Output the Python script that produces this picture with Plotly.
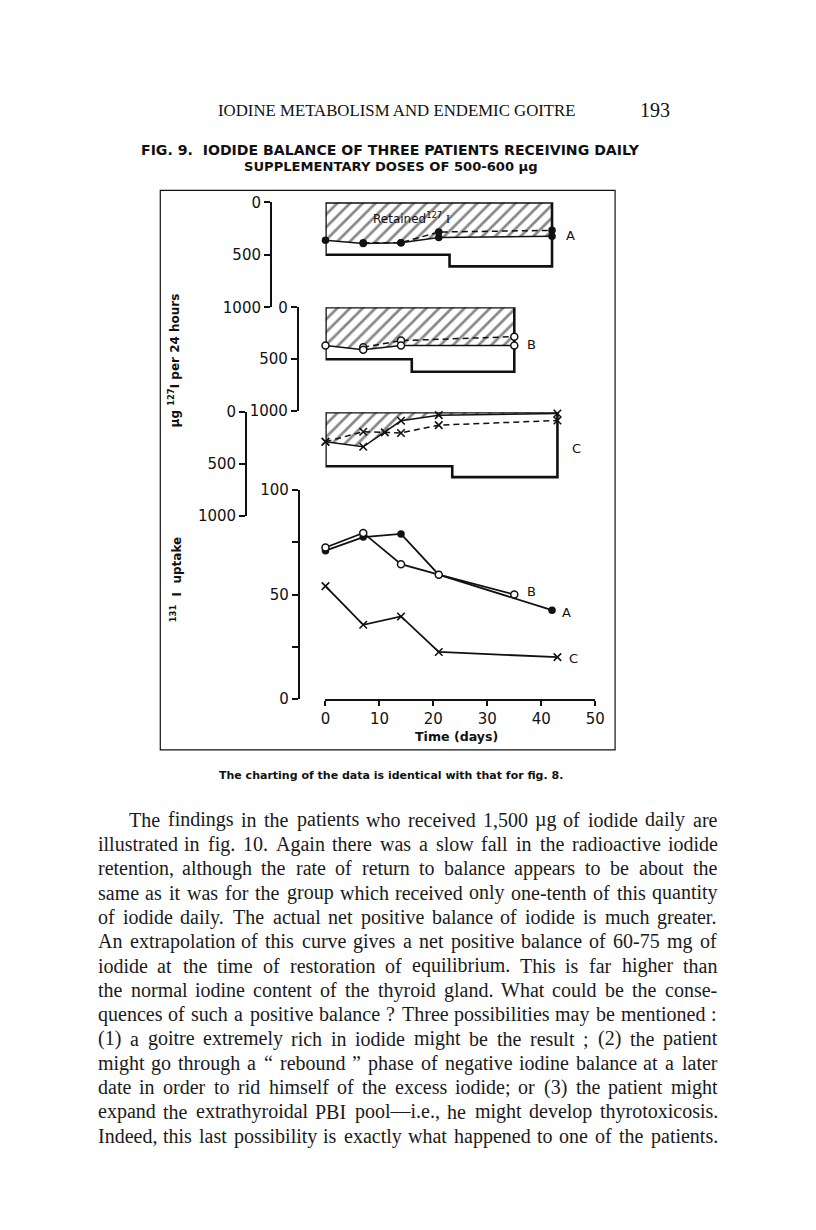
import plotly.graph_objects as go

# page is 816 x 1230; the browser keeps a body margin around the figure
W, H = 816, 1230
FW, FH = 800, 1214
# measured page placement of figure pixels: page = S * fig + T
S, TX, TY = 0.986, 12.0, 16.5

# ---- 131I uptake (% of dose) ----
days_up_A = [0, 7, 14, 21, 42]
uptake_A = [71, 77.5, 79, 59.5, 42.5]
days_up_B = [0, 7, 14, 21, 35]
uptake_B = [72.5, 79.5, 64.5, 59.5, 50]
days_up_C = [0, 7, 14, 21, 43]
uptake_C = [54, 35.5, 39.5, 22.5, 20]

# ---- 127I balance, ug per 24 h (plotted downward from 0) ----
intake_days_A = [0, 23, 42]
intake_A = [500, 610]
solid_days_A = [0, 7, 14, 21, 42]
solid_A = [362, 393, 384, 336, 324]
dash_days_A = [7, 14, 21, 42]
dash_A = [384, 384, 283, 267]

intake_days_B = [0, 16, 35]
intake_B = [500, 620]
solid_days_B = [0, 7, 14, 35]
solid_B = [368, 410, 368, 368]
dash_days_B = [7, 14, 35]
dash_B = [384, 321, 283]

intake_days_C = [0, 23.5, 43]
intake_C = [520, 625]
solid_days_C = [0, 7, 14, 21, 43]
solid_C = [285, 333, 83, 29, 13]
dash_days_C = [0, 7, 11, 14, 21, 43]
dash_C = [285, 188, 195, 200, 125, 80]

time_ticks = [0, 10, 20, 30, 40, 50]
balance_ticks = [0, 500, 1000]
uptake_ticks = [0, 50, 100]
uptake_minor = [25, 75]

INK = "#111111"


def px(x):
    return (x - TX) / S / FW


def py(y):
    return 1 - (y - TY) / S / FH


def intake_box(days, levels):
    # top edge at 0, stepped bottom edge at the intake level
    xs, ys = [days[0], days[0]], [0, levels[0]]
    for i, lev in enumerate(levels):
        if i > 0:
            xs.append(days[i]); ys.append(lev)
        xs.append(days[i + 1]); ys.append(lev)
    xs += [days[-1], days[0]]
    ys += [0, 0]
    return xs, ys


fig = go.Figure()

marker_A = dict(symbol="circle", size=7.5, color=INK)
marker_B = dict(symbol="circle", size=7, color="white", line=dict(color=INK, width=1.5))
marker_C = dict(symbol="x-thin", size=7.5, line=dict(color=INK, width=1.6), color=INK)

panels = [
    ("y2", intake_days_A, intake_A, solid_days_A, solid_A, dash_days_A, dash_A, marker_A),
    ("y3", intake_days_B, intake_B, solid_days_B, solid_B, dash_days_B, dash_B, marker_B),
    ("y4", intake_days_C, intake_C, solid_days_C, solid_C, dash_days_C, dash_C, marker_C),
]

for yax, idays, ilev, sdays, svals, ddays, dvals, mk in panels:
    # hatched "retained" area between 0 and the solid line
    fig.add_trace(go.Scatter(
        x=[sdays[0]] + sdays + [sdays[-1]], y=[0] + svals + [0],
        yaxis=yax, mode="lines", fill="toself", line=dict(width=0),
        fillcolor="rgba(0,0,0,0)",
        fillpattern=dict(shape="/", fgcolor=INK, bgcolor="rgba(0,0,0,0)", size=9, solidity=0.3),
        hoverinfo="skip", cliponaxis=False))
    bx, by = intake_box(idays, ilev)
    fig.add_trace(go.Scatter(x=bx, y=by, yaxis=yax, mode="lines",
                             line=dict(color=INK, width=2.6), cliponaxis=False))
    fig.add_trace(go.Scatter(x=ddays, y=dvals, yaxis=yax, mode="lines+markers",
                             line=dict(color=INK, width=1.5, dash="6px,4px"),
                             marker=mk, cliponaxis=False))
    fig.add_trace(go.Scatter(x=sdays, y=svals, yaxis=yax, mode="lines+markers",
                             line=dict(color=INK, width=1.5), marker=mk, cliponaxis=False))

# uptake curves
for d, v, mk in [(days_up_C, uptake_C, marker_C), (days_up_A, uptake_A, marker_A),
                 (days_up_B, uptake_B, marker_B)]:
    fig.add_trace(go.Scatter(x=d, y=v, mode="lines+markers",
                             line=dict(color=INK, width=1.8), marker=mk, cliponaxis=False))

tickfont = dict(family="DejaVu Sans", size=15, color=INK)


def spine(top_px, bottom_px, x_px, rng, tickvals, minor=None):
    ax = dict(domain=[py(bottom_px), py(top_px)], range=rng, anchor="free",
              position=px(x_px), showline=True, linecolor=INK, linewidth=1.5,
              ticks="outside", ticklen=6, tickwidth=1.5, tickcolor=INK,
              tickvals=tickvals, tickfont=tickfont,
              showgrid=False, zeroline=False)
    if minor:
        ax["minor"] = dict(tickvals=minor, ticks="outside", ticklen=6, tickwidth=1.5,
                           tickcolor=INK, showgrid=False)
    return ax


fig.update_layout(
    width=FW, height=FH, autosize=False,
    margin=dict(l=0, r=0, t=0, b=0),
    paper_bgcolor="white", plot_bgcolor="rgba(0,0,0,0)",
    showlegend=False,
    xaxis=dict(domain=[px(326), px(597)], range=[0, 50], anchor="y",
               showline=True, linecolor=INK, linewidth=1.5,
               ticks="outside", ticklen=5, tickwidth=1.5, tickcolor=INK,
               tickvals=time_ticks, tickfont=tickfont, showgrid=False, zeroline=False),
    yaxis=spine(490, 699, 299, [0, 100], uptake_ticks, uptake_minor),
    yaxis2=spine(202, 307, 271, [1000, 0], balance_ticks),
    yaxis3=spine(307, 411, 298, [1000, 0], balance_ticks),
    yaxis4=spine(412, 516, 246, [1000, 0], balance_ticks),
)

ann = []


def note(x, y, text, size, family="DejaVu Sans", xanchor="center", angle=0, color=INK):
    ann.append(dict(x=px(x), y=py(y), xref="paper", yref="paper", text=text,
                    showarrow=False, xanchor=xanchor, yanchor="middle", textangle=angle,
                    font=dict(family=family, size=size, color=color), borderpad=0))


# curve labels
lab = dict(family="DejaVu Sans", size=13, color=INK)
for x, y, yref, t in [(44.3, 320, "y2", "A"), (37.0, 362, "y3", "B"), (45.4, 352, "y4", "C"),
                      (37.0, 51.5, "y", "B"), (43.5, 41.5, "y", "A"), (44.8, 19.5, "y", "C")]:
    ann.append(dict(x=x, y=y, xref="x", yref=yref, text=t, showarrow=False,
                    xanchor="left", yanchor="middle", font=lab))
ann.append(dict(x=16, y=150, xref="x", yref="y2",
                text="Retained<sup>127</sup> <span style='font-family:Liberation Serif'>I</span>",
                showarrow=False, font=dict(family="DejaVu Sans", size=12, color=INK)))

# axis titles
nb = "\u00a0"
note(174, 360, "<b>µg <sup>127</sup>I per 24 hours</b>", 12, angle=-90)
note(176, 580, f"<b><sup>131</sup>{nb} I{nb} uptake</b>", 12, angle=-90)
note(458, 737, "<b>Time (days)</b>", 12.6)

# page header, figure title, caption
note(398, 110, "IODINE METABOLISM AND ENDEMIC GOITRE", 16.8, family="Liberation Serif")
note(657, 110, "193", 20, family="Liberation Serif")
note(391, 150, f"<b>FIG. 9.{nb}{nb}IODIDE BALANCE OF THREE PATIENTS RECEIVING DAILY</b>", 14.1)
note(392, 166, "<b>SUPPLEMENTARY DOSES OF 500-600 µg</b>", 13.1)
note(392, 776, "<b>The charting of the data is identical with that for fig. 8.</b>", 11)

# body paragraph, justified word by word (Times metrics, per 1000 em)
TIMES = {" ": 250, ",": 250, ".": 250, ";": 278, ":": 278, "?": 444, "(": 333, ")": 333,
         "-": 333, "—": 1000, "“": 444, "”": 444, "µ": 500}
TIMES.update({c: 500 for c in "0123456789"})
TIMES.update(dict(zip("ABCDEFGHIJKLMNOPQRSTUVWXYZ",
                      [722, 667, 667, 722, 611, 556, 722, 722, 333, 389, 722, 611, 889,
                       722, 722, 556, 722, 667, 556, 611, 722, 722, 944, 722, 722, 611])))
TIMES.update(dict(zip("abcdefghijklmnopqrstuvwxyz",
                      [444, 500, 444, 500, 444, 333, 500, 500, 278, 278, 500, 278, 778,
                       500, 500, 500, 500, 333, 389, 278, 500, 500, 722, 500, 500, 444])))

body = [
    "The findings in the patients who received 1,500 µg of iodide daily are",
    "illustrated in fig. 10. Again there was a slow fall in the radioactive iodide",
    "retention, although the rate of return to balance appears to be about the",
    "same as it was for the group which received only one-tenth of this quantity",
    "of iodide daily. The actual net positive balance of iodide is much greater.",
    "An extrapolation of this curve gives a net positive balance of 60-75 mg of",
    "iodide at the time of restoration of equilibrium. This is far higher than",
    "the normal iodine content of the thyroid gland. What could be the conse-",
    "quences of such a positive balance ? Three possibilities may be mentioned :",
    "(1) a goitre extremely rich in iodide might be the result ; (2) the patient",
    "might go through a “ rebound ” phase of negative iodine balance at a later",
    "date in order to rid himself of the excess iodide; or (3) the patient might",
    "expand the extrathyroidal PBI pool—i.e., he might develop thyrotoxicosis.",
    "Indeed, this last possibility is exactly what happened to one of the patients.",
]
BODY_SIZE = 20
for i, line in enumerate(body):
    y = 820 + 24.35 * i
    left = 128 if i == 0 else 96
    right = 718
    words = line.split()
    # word widths measured in page pixels
    widths = [sum(TIMES.get(c, 500) for c in w) * BODY_SIZE * S / 1000 for w in words]
    gap = (right - left - sum(widths)) / (len(words) - 1)
    x = left
    for w, wd in zip(words, widths):
        note(x, y, w, BODY_SIZE, family="Liberation Serif", xanchor="left", color="#1a1a1a")
        x += wd + gap

fig.update_layout(annotations=ann)

# figure frame
fig.add_shape(type="rect", xref="paper", yref="paper",
              x0=px(160), x1=px(617), y0=py(750), y1=py(190),
              line=dict(color=INK, width=1.2))

fig.write_html("out.html")
